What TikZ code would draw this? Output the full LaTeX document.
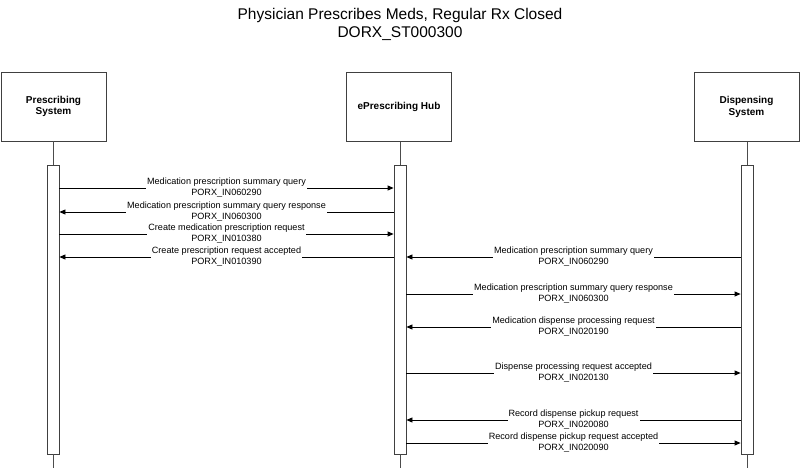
\documentclass[tikz,border=0pt]{standalone}
\usepackage{fontspec}
\setmainfont{Liberation Sans}
\usetikzlibrary{arrows.meta}

\begin{document}
\begin{tikzpicture}[x=1pt,y=-1pt,>={Triangle[length=6pt,width=5pt]},
system/.style={draw=black!75,line width=0.8pt,minimum width=105pt,minimum height=69pt,
  align=center,font=\bfseries\fontsize{10}{11.5}\selectfont},
bar/.style={draw=black!75,line width=0.8pt,fill=white,minimum width=12pt,minimum height=289pt,inner sep=0pt},
life/.style={draw=black!70,line width=0.9pt},
msg/.style={->,line width=0.8pt},
lbl/.style={midway,fill=white,inner sep=1pt,align=center,font=\fontsize{9.1}{11}\selectfont}
]
\useasboundingbox (0,0) rectangle (800,468);

\node[anchor=base,font=\fontsize{15.5}{18}\selectfont] (title) at (400,20) {Physician Prescribes Meds, Regular Rx Closed};
\node[anchor=base,font=\fontsize{15.5}{18}\selectfont] (code) at (400,38) {DORX\_ST000300};

% systems
\node[system] (sysL) at (53.5,106.5) {Prescribing\\System};
\node[system] (sysH) at (399,107) {ePrescribing Hub};
\node[system] (sysD) at (746.5,107) {Dispensing\\System};

% activation bars
\node[bar] (barL) at (53,309.5) {};
\node[bar] (barH) at (400,309.5) {};
\node[bar] (barD) at (747,309.5) {};

\coordinate (bottom) at (0,468);
\draw[life] (sysL.south -| barL) -- (barL.north);
\draw[life] (sysH.south -| barH) -- (barH.north);
\draw[life] (sysD.south -| barD) -- (barD.north);
\draw[life] (barL.south) -- (barL.south |- bottom);
\draw[life] (barH.south) -- (barH.south |- bottom);
\draw[life] (barD.south) -- (barD.south |- bottom);

% message levels
\coordinate (m1) at (0,188);
\coordinate (m2) at (0,212);
\coordinate (m3) at (0,234);
\coordinate (m4) at (0,257);
\coordinate (m5) at (0,257);
\coordinate (m6) at (0,294);
\coordinate (m7) at (0,327);
\coordinate (m8) at (0,373);
\coordinate (m9) at (0,420);
\coordinate (m10) at (0,443);

% prescribing system <-> hub
\draw[msg] (barL.east |- m1) -- (barH.west |- m1) node[lbl] {Medication prescription summary query\\PORX\_IN060290};
\draw[msg] (barH.west |- m2) -- (barL.east |- m2) node[lbl] {Medication prescription summary query response\\PORX\_IN060300};
\draw[msg] (barL.east |- m3) -- (barH.west |- m3) node[lbl] {Create medication prescription request\\PORX\_IN010380};
\draw[msg] (barH.west |- m4) -- (barL.east |- m4) node[lbl] {Create prescription request accepted\\PORX\_IN010390};

% hub <-> dispensing system
\draw[msg] (barD.west |- m5) -- (barH.east |- m5) node[lbl] {Medication prescription summary query\\PORX\_IN060290};
\draw[msg] (barH.east |- m6) -- (barD.west |- m6) node[lbl] {Medication prescription summary query response\\PORX\_IN060300};
\draw[msg] (barD.west |- m7) -- (barH.east |- m7) node[lbl] {Medication dispense processing request\\PORX\_IN020190};
\draw[msg] (barH.east |- m8) -- (barD.west |- m8) node[lbl] {Dispense processing request accepted\\PORX\_IN020130};
\draw[msg] (barD.west |- m9) -- (barH.east |- m9) node[lbl] {Record dispense pickup request\\PORX\_IN020080};
\draw[msg] (barH.east |- m10) -- (barD.west |- m10) node[lbl] {Record dispense pickup request accepted\\PORX\_IN020090};
\end{tikzpicture}
\end{document}
